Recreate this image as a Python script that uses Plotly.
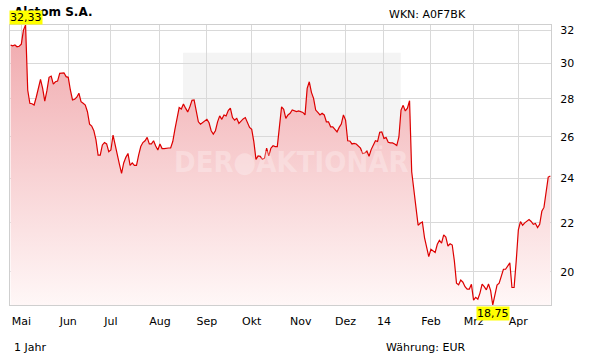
import math
import plotly.graph_objects as go

# ---- data (daily closes, trading-day index) ----
prices = [
    31.09, 31.05, 31.10, 30.99, 31.02, 31.15, 32.01, 32.33, 28.49, 27.76,
    27.74, 27.67, 28.09, 28.58, 29.09, 28.58, 27.88, 28.45, 29.20, 29.27,
    28.82, 28.95, 28.99, 29.43, 29.43, 29.46, 29.24, 29.20, 28.49, 27.94,
    27.98, 28.09, 28.31, 27.85, 27.76, 27.67, 27.31, 26.66, 26.56, 26.32,
    25.85, 25.10, 25.10, 25.60, 25.72, 25.65, 25.27, 25.35, 26.10, 25.55,
    25.15, 24.65, 24.22, 24.72, 24.99, 25.18, 24.60, 24.72, 24.60, 24.60,
    25.10, 25.52, 25.72, 25.81, 25.98, 25.65, 25.65, 25.81, 25.55, 25.35,
    25.65, 25.42, 25.42, 25.45, 25.45, 25.45, 25.77, 26.39, 27.05, 27.53,
    27.45, 27.72, 27.50, 27.30, 27.57, 27.92, 27.94, 27.40, 26.78, 26.66,
    26.73, 26.84, 26.91, 26.73, 26.32, 26.15, 26.32, 26.78, 27.09, 26.91,
    27.14, 27.09, 27.37, 27.50, 27.00, 26.87, 26.96, 26.70, 26.82, 26.93,
    27.00, 26.78, 26.49, 26.39, 25.77, 24.89, 25.06, 25.04, 24.90, 24.95,
    25.44, 25.06, 25.44, 25.56, 25.52, 25.52, 26.70, 27.57, 27.44, 26.96,
    27.14, 27.23, 27.40, 27.37, 27.32, 27.35, 27.32, 27.27, 27.14, 28.58,
    28.95, 28.36, 28.03, 27.40, 27.27, 27.14, 27.23, 27.14, 26.78, 26.78,
    26.52, 26.52, 26.39, 26.26, 26.49, 26.66, 27.14, 26.87, 25.81, 25.80,
    25.65, 25.68, 25.65, 25.52, 25.44, 25.18, 25.20, 25.30, 25.04, 25.37,
    25.60, 25.81, 25.77, 26.24, 26.26, 25.93, 25.97, 25.73, 25.70, 25.70,
    25.65, 25.57, 26.00, 27.40, 27.65, 27.35, 27.50, 27.90, 24.30, 23.40,
    22.70, 21.90, 21.98, 22.04, 21.38, 20.97, 20.60, 20.90, 20.85, 20.77,
    21.10, 21.26, 21.15, 21.49, 21.40, 21.03, 21.12, 21.07, 20.43, 19.56,
    19.50, 19.68, 19.60, 19.43, 19.34, 19.34, 19.52, 18.93, 19.03, 18.96,
    19.19, 19.53, 19.43, 19.31, 19.53, 19.28, 18.75, 19.19, 19.49, 19.56,
    19.87, 20.10, 20.10, 20.23, 20.35, 19.40, 19.40, 20.43, 21.70, 22.05,
    21.90, 22.00, 22.09, 22.14, 22.06, 21.94, 21.97, 21.80, 21.94, 22.50,
    22.67, 23.27, 24.05, 24.10,
]
month_idx = [5, 27, 47, 70, 92, 113, 136, 157, 175, 197, 217, 238]
month_labels = ["Mai", "Jun", "Jul", "Aug", "Sep", "Okt", "Nov", "Dez", "14", "Feb", "Mrz", "Apr"]
y_ticks = [20, 22, 24, 26, 28, 30, 32]

title = "Alstom S.A."
wkn = "WKN: A0F7BK"
period = "1 Jahr"
currency = "Währung: EUR"

x = list(range(len(prices)))
pmin, pmax = min(prices), max(prices)
imin, imax = prices.index(pmin), prices.index(pmax)

def fmt(v):
    return f"{v:.2f}".replace(".", ",")

FONT = "DejaVu Sans"
fig = go.Figure()
fig.add_trace(go.Scatter(x=x, y=[pmin] * len(x), mode="lines",
                         line=dict(width=0), hoverinfo="skip", showlegend=False))
fig.add_trace(go.Scatter(
    x=x, y=prices, mode="lines", fill="tonexty",
    line=dict(color="#dd0000", width=1.2),
    fillgradient=dict(type="vertical",
                      colorscale=[[0, "rgb(255,247,247)"], [1, "rgb(240,168,172)"]]),
    showlegend=False))

fig.update_layout(
    width=611, height=364,
    margin=dict(l=10, r=60, t=25, b=59),
    paper_bgcolor="white", plot_bgcolor="white",
    font=dict(family=FONT, size=11, color="#000"),
    showlegend=False,
    xaxis=dict(range=[-0.3, 253.3], tickmode="array", tickvals=month_idx, ticktext=month_labels,
               showgrid=True, gridcolor="#d9d9d9", gridwidth=1, zeroline=False,
               showline=True, linecolor="#cfcfcf", mirror=True, ticks="", ticklabelstandoff=6,
               tickfont=dict(family=FONT, size=11, color="#000")),
    yaxis=dict(type="log", range=[math.log10(pmin), math.log10(pmax)], side="right",
               tickmode="array", tickvals=y_ticks, ticktext=[str(t) for t in y_ticks],
               showgrid=True, gridcolor="#d9d9d9", gridwidth=1, zeroline=False,
               showline=True, linecolor="#cfcfcf", mirror=True, ticks="", ticklabelstandoff=6,
               tickfont=dict(family=FONT, size=11, color="#000")),
    shapes=[dict(type="rect", xref="paper", yref="paper", x0=0.3198, x1=0.7222,
                 y0=0.125, y1=0.901, fillcolor="#f4f4f4", line=dict(width=0), layer="below")],
)

ann = [
    dict(text=title, xref="paper", yref="paper", x=0.0031, y=1.045, xanchor="left", yanchor="middle",
         showarrow=False, font=dict(family=FONT, size=12, color="#000", weight="bold")),
    dict(text=wkn, xref="paper", yref="paper", x=0.8466, y=1.036, xanchor="right", yanchor="middle",
         showarrow=False, font=dict(family=FONT, size=11, color="#000")),
    dict(text=period, xref="paper", yref="paper", x=0.0037, y=-0.15, xanchor="left", yanchor="middle",
         showarrow=False, font=dict(family=FONT, size=11, color="#000")),
    dict(text=currency, xref="paper", yref="paper", x=0.8466, y=-0.15, xanchor="right", yanchor="middle",
         showarrow=False, font=dict(family=FONT, size=11, color="#000")),
    dict(text="DER●AKTIONÄR", xref="paper", yref="paper", x=0.5207, y=0.5125,
         xanchor="center", yanchor="middle", showarrow=False,
         font=dict(family="DejaVu Sans Condensed", size=29, color="rgba(255,255,255,0.28)", weight="bold")),
    dict(text=fmt(pmax), x=imax, y=math.log10(pmax), xref="x", yref="y", xanchor="center",
         yanchor="bottom", showarrow=False, bgcolor="#ffff00", borderpad=0,
         font=dict(family=FONT, size=11, color="#000")),
    dict(text=fmt(pmin), x=imin, y=math.log10(pmin), xref="x", yref="y", xanchor="center",
         yanchor="top", yshift=-1, showarrow=False, bgcolor="#ffff00", borderpad=0,
         font=dict(family=FONT, size=11, color="#000")),
]
fig.update_layout(annotations=ann)

fig.write_html("out.html")
